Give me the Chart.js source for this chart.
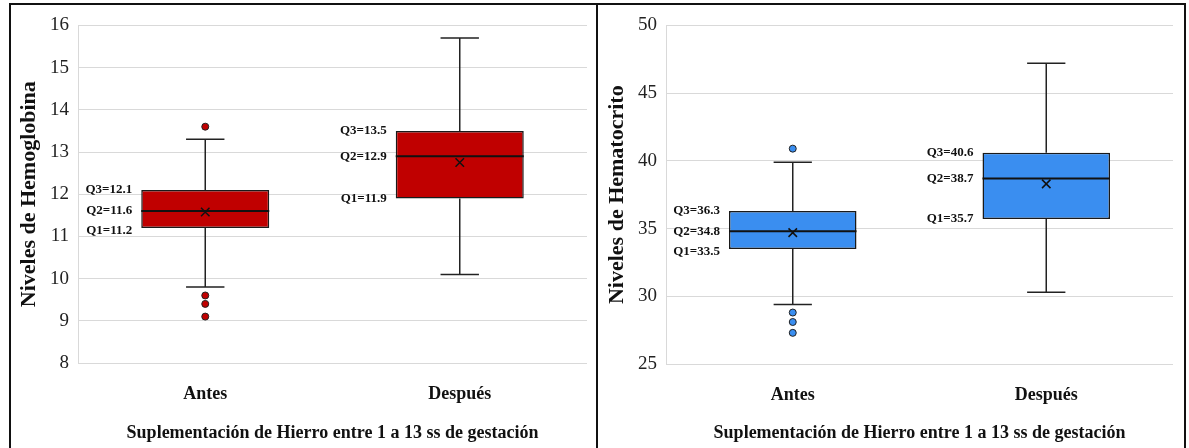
<!DOCTYPE html>
<html>
<head>
<meta charset="utf-8">
<script src="https://cdn.jsdelivr.net/npm/chart.js@4.4.1/dist/chart.umd.min.js"></script>
<style>
    body { margin: 0; background: #fff; width: 1189px; height: 448px; overflow: hidden; position: relative; }
    #frame { position: absolute; left: 9px; top: 3px; width: 1173px; height: 460px; border: 2px solid #111; }
    #divider { position: absolute; left: 596px; top: 3px; width: 2px; height: 460px; background: #111; }
    canvas { position: absolute; }
</style>
</head>
<body>
<div id="frame"></div>
<div id="divider"></div>
<canvas id="chartHb" width="585" height="443" style="left:11px;top:5px"></canvas>
<canvas id="chartHt" width="584" height="443" style="left:599px;top:5px"></canvas>
<script>
const categories = ['Antes', 'Después'];

// Hemoglobina
const hbQ1 = [11.2, 11.9];
const hbQ2 = [11.6, 12.9];
const hbQ3 = [12.1, 13.5];
const hbMin = [9.8, 10.1];
const hbMax = [13.3, 15.7];
const hbMean = [11.58, 12.75];
const hbOutliers = [[13.6, 9.6, 9.4, 9.1], []];
const hbTicks = { min: 8, max: 16, step: 1 };

// Hematocrito
const htQ1 = [33.5, 35.7];
const htQ2 = [34.8, 38.7];
const htQ3 = [36.3, 40.6];
const htMin = [29.4, 30.3];
const htMax = [39.9, 47.2];
const htMean = [34.7, 38.3];
const htOutliers = [[40.9, 28.8, 28.1, 27.3], []];
const htTicks = { min: 25, max: 50, step: 5 };

const xTitle = 'Suplementación de Hierro entre 1 a 13 ss de gestación';

Chart.defaults.font.family = "'Liberation Serif', 'Times New Roman', serif";
Chart.defaults.color = '#222';

// median line, whiskers and Q labels for the floating bars
const boxExtras = {
    id: 'boxExtras',
    afterDatasetDraw(chart, args, opts) {
        if (args.index !== 0) return;
        const ctx = chart.ctx;
        const y = chart.scales.y;
        const bars = args.meta.data;
        ctx.save();
        bars.forEach(function(bar, i) {
            const x = bar.x, half = bar.width / 2, cap = bar.width * 0.15;
            const top = y.getPixelForValue(opts.q3[i]);
            const bot = y.getPixelForValue(opts.q1[i]);
            const hi = y.getPixelForValue(opts.max[i]);
            const lo = y.getPixelForValue(opts.min[i]);
            const med = y.getPixelForValue(opts.q2[i]);

            ctx.strokeStyle = '#222';
            ctx.lineWidth = 1.5;
            ctx.beginPath();
            ctx.moveTo(x, top); ctx.lineTo(x, hi);
            ctx.moveTo(x - cap, hi); ctx.lineTo(x + cap, hi);
            ctx.moveTo(x, bot); ctx.lineTo(x, lo);
            ctx.moveTo(x - cap, lo); ctx.lineTo(x + cap, lo);
            ctx.stroke();

            ctx.strokeStyle = '#111';
            ctx.lineWidth = 2;
            ctx.beginPath();
            ctx.moveTo(x - half, med); ctx.lineTo(x + half, med);
            ctx.stroke();

            // labels, kept at least 20px apart
            let y2 = med;
            let y3 = Math.min(top, y2 - 20);
            let y1 = Math.max(bot, y2 + 20);
            ctx.font = "bold 13px 'Liberation Serif', serif";
            ctx.fillStyle = '#111';
            ctx.textAlign = 'right';
            ctx.textBaseline = 'middle';
            const lx = x - half - 9;
            ctx.fillText('Q3=' + opts.q3[i].toFixed(1), lx, y3);
            ctx.fillText('Q2=' + opts.q2[i].toFixed(1), lx, y2);
            ctx.fillText('Q1=' + opts.q1[i].toFixed(1), lx, y1);
        });
        ctx.restore();
    }
};

function makeBoxChart(id, s) {
    const outlierPts = [];
    s.outliers.forEach(function(list, i) {
        list.forEach(function(v) { outlierPts.push({ x: categories[i], y: v }); });
    });
    const meanPts = s.mean.map(function(v, i) { return { x: categories[i], y: v }; });

    return new Chart(document.getElementById(id), {
        type: 'bar',
        data: {
            labels: categories,
            datasets: [{
                label: 'box',
                data: s.q1.map(function(v, i) { return [v, s.q3[i]]; }),
                backgroundColor: s.color,
                borderColor: '#1a1a1a',
                borderWidth: 1.5,
                borderSkipped: false,
                barPercentage: 0.503,
                categoryPercentage: 1,
                order: 2
            }, {
                type: 'line',
                label: 'outliers',
                data: outlierPts,
                showLine: false,
                pointStyle: 'circle',
                pointRadius: 3.5,
                pointBackgroundColor: s.color,
                pointBorderColor: '#222',
                pointBorderWidth: 1,
                order: 1
            }, {
                type: 'line',
                label: 'mean',
                data: meanPts,
                showLine: false,
                pointStyle: 'crossRot',
                pointRadius: 6,
                pointBorderColor: '#111',
                pointBorderWidth: 1.5,
                order: 1
            }]
        },
        options: {
            responsive: false,
            animation: false,
            layout: { padding: { top: s.padTop, right: s.padRight, left: 0, bottom: 0 } },
            scales: {
                x: {
                    grid: { display: false },
                    border: { display: false },
                    ticks: { font: { size: 18, weight: 'bold' }, color: '#111', padding: 13 },
                    title: {
                        display: true,
                        text: xTitle,
                        font: { size: 18, weight: 'bold' },
                        color: '#111',
                        padding: { top: 0, bottom: 4 }
                    },
                    afterFit: function(scale) { scale.height = s.xHeight; }
                },
                y: {
                    min: s.ticks.min,
                    max: s.ticks.max,
                    ticks: { stepSize: s.ticks.step, font: { size: 19 }, color: '#222', padding: 9 },
                    grid: { color: '#d9d9d9', lineWidth: 1, drawTicks: false },
                    border: { color: '#d9d9d9' },
                    title: {
                        display: true,
                        text: s.yTitle,
                        font: { size: 22, weight: 'bold' },
                        color: '#111',
                        padding: { top: 5, bottom: 0 }
                    },
                    afterFit: function(scale) { scale.width = 67; }
                }
            },
            plugins: {
                legend: { display: false },
                tooltip: { enabled: false },
                boxExtras: { q1: s.q1, q2: s.q2, q3: s.q3, min: s.min, max: s.max }
            }
        },
        plugins: [boxExtras]
    });
}

makeBoxChart('chartHb', {
    q1: hbQ1, q2: hbQ2, q3: hbQ3, min: hbMin, max: hbMax, mean: hbMean, outliers: hbOutliers,
    ticks: hbTicks, color: '#c00000', yTitle: 'Niveles de Hemoglobina',
    padTop: 19, padRight: 9, xHeight: 85
});

makeBoxChart('chartHt', {
    q1: htQ1, q2: htQ2, q3: htQ3, min: htMin, max: htMax, mean: htMean, outliers: htOutliers,
    ticks: htTicks, color: '#3a8ef0', yTitle: 'Niveles de Hematocrito',
    padTop: 20, padRight: 10, xHeight: 84
});
</script>
</body>
</html>
